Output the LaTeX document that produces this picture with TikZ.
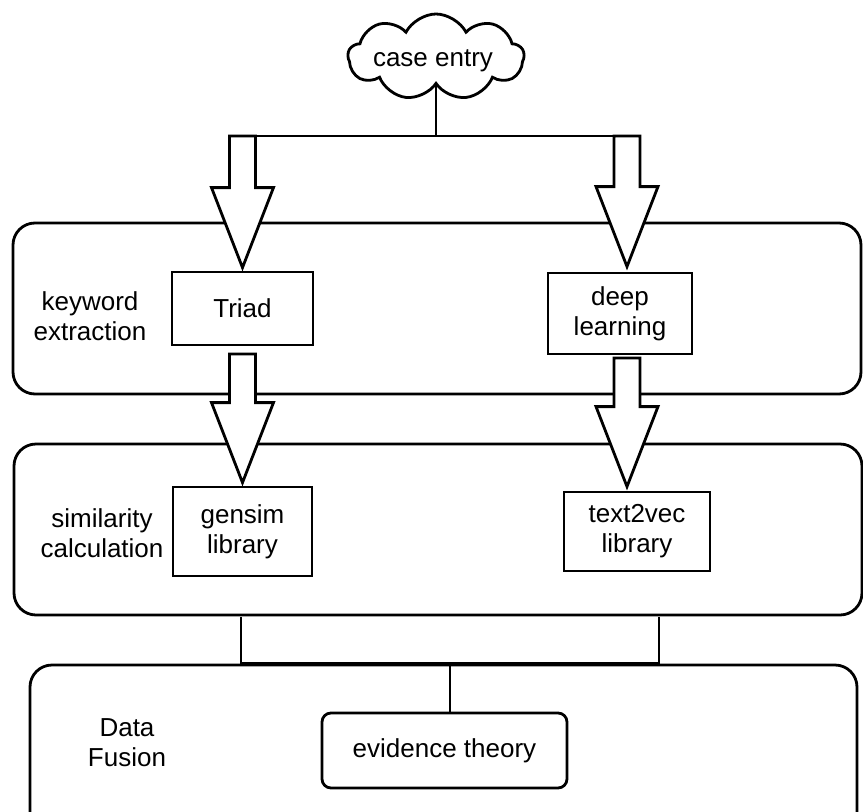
\documentclass[tikz,border=0pt]{standalone}
\usepackage{fontspec}
\setmainfont{Liberation Sans}
\usetikzlibrary{shapes.symbols,calc}
\tikzset{
  txt/.style={font=\fontsize{26}{30}\selectfont, align=center, inner sep=0pt},
  lane/.style={draw, line width=2.8pt, rounded corners=22pt, inner sep=0pt},
  box/.style={draw, line width=2.8pt, fill=white, txt},
  blockarr/.style={draw, line width=2.8pt, fill=white, line join=miter},
  conn/.style={line width=2.8pt},
}
\newcommand\blockarrow[2]{%
  \path[blockarr] let \p1=#1, \p2=#2 in
    (\x2-13pt,\y1) -- (\x2-13pt,\y2+80pt) -- (\x2-31pt,\y2+80pt) -- (\x2,\y2)
    -- (\x2+31pt,\y2+80pt) -- (\x2+13pt,\y2+80pt) -- (\x2+13pt,\y1) -- cycle;}
\begin{document}
\begin{tikzpicture}[x=1pt,y=-1pt]
\useasboundingbox (0,0) rectangle (863,812);
\clip (0,0) rectangle (863,812);
\fill[white] (0,0) rectangle (863,812);
% lanes
\node[lane, minimum width=848, minimum height=171] (lane1) at (437,308.5) {};
\node[lane, minimum width=848, minimum height=171] (lane2) at (438,529.5) {};
\node[lane, minimum width=827, minimum height=190] (lane3) at (443.5,760) {};
% lane labels
\node[txt] (l1) at (90,316) {keyword\\extraction};
\node[txt] (l2) at (102,533) {similarity\\calculation};
\node[txt] (l3) at (127,743) {Data\\Fusion};
% cloud
\node[draw, line width=2.8pt, cloud, cloud puffs=9, cloud puff arc=125, aspect=2,
      minimum width=176, minimum height=86, inner sep=0pt, txt] (cloud) at (436,57) {};
\node[txt] (ce) at (433,61) {case entry};
% boxes
\node[box, minimum width=141, minimum height=73] (triad) at (242.5,308.5) {Triad};
\node[box, minimum width=144, minimum height=81] (deep) at (620,313.5) {deep\\learning};
\node[box, minimum width=139, minimum height=89] (gensim) at (242.5,531.5) {gensim\\library};
\node[box, minimum width=146, minimum height=79] (t2v) at (637,531.5) {text2vec\\library};
\node[box, rounded corners=9pt, minimum width=245, minimum height=75] (evid) at (444.5,750.5) {evidence theory};
% top connector
\coordinate (hl) at (228,136);
\coordinate (hr) at (639,136);
\draw[conn] (cloud.south) -- (cloud.south |- hl);
\draw[conn] (hl) -- (hr);
% block arrows
\coordinate (a1) at (241,136);
\coordinate (a2) at (626,136);
\coordinate (a3) at (241.5,354);
\coordinate (a4) at (626,358);
\blockarrow{(a1)}{($(triad.north)+(0,-3)$)}
\blockarrow{(a2)}{($(deep.north)+(7,-5)$)}
\blockarrow{(a3)}{($(gensim.north)+(0,-3)$)}
\blockarrow{(a4)}{($(t2v.north)+(-10,-4)$)}
% bottom connectors
\coordinate (b1) at (241,617);
\coordinate (b2) at (659,617);
\coordinate (m) at (450,665);
\draw[conn] (b1) -- (b1 |- lane3.north) -- (b2 |- lane3.north) -- (b2);
\draw[conn] (m) -- (m |- evid.north);
\end{tikzpicture}
\end{document}
